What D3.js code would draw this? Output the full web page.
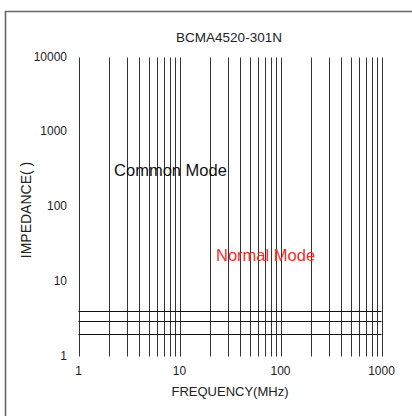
<!DOCTYPE html>
<html>
<head>
<meta charset="utf-8">
<script src="https://cdn.jsdelivr.net/npm/d3@7/dist/d3.min.js"></script>
<style>
  html, body { margin: 0; padding: 0; background: #fff; }
  svg { display: block; font-family: "Liberation Sans", Arial, sans-serif; }
</style>
</head>
<body>
<svg id="chart" width="412" height="416"></svg>
<script>
// ---- data ----
const title = "BCMA4520-301N";
const xTickValues = [1, 10, 100, 1000];
const xTickLabels = ["1", "10", "100", "1000"];
const yTickValues = [1, 10, 100, 1000, 10000];
const yTickLabels = ["1", "10", "100", "1000", "10000"];
const gridFrequencies = [1,2,3,4,5,6,7,8,9,10,20,30,40,50,60,70,80,90,100,200,300,400,500,600,700,800,900,1000];
const gridImpedances = [2, 3, 4];
const annotations = ["Common Mode", "Normal Mode"];
const annotationAt = [[2.25, 260], [23, 19.2]]; // [frequency, impedance]
const xAxisLabel = "FREQUENCY(MHz)";
const yAxisLabel = "IMPEDANCE( )";

// ---- drawing ----
const svg = d3.select("#chart");
const x = d3.scaleLog().domain([1, 1000]).range([78.5, 381.5]);
const y = d3.scaleLog().domain([1, 10000]).range([356.5, 57.5]);

// outer frame (left and top only)
svg.append("path")
  .attr("d", "M5.5,416 L5.5,11.5 L412,11.5")
  .attr("fill", "none")
  .attr("stroke", "#6b6363")
  .attr("stroke-width", 1.6);

// vertical grid lines
svg.append("g").selectAll("line").data(gridFrequencies).join("line")
  .attr("x1", d => Math.round(x(d)) + 0.5).attr("x2", d => Math.round(x(d)) + 0.5)
  .attr("y1", y(10000)).attr("y2", y(1))
  .attr("stroke", "#333").attr("stroke-width", 1);

// horizontal grid lines
svg.append("g").selectAll("line").data(gridImpedances).join("line")
  .attr("x1", x(1)).attr("x2", x(1000))
  .attr("y1", d => Math.round(y(d)) + 0.5).attr("y2", d => Math.round(y(d)) + 0.5)
  .attr("stroke", "#111").attr("stroke-width", 1.2);

// x tick labels
svg.append("g").selectAll("text").data(xTickValues).join("text")
  .attr("x", d => x(d)).attr("y", 375)
  .attr("text-anchor", "middle")
  .attr("font-size", 12).attr("fill", "#222")
  .text((d, i) => xTickLabels[i]);

// y tick labels
svg.append("g").selectAll("text").data(yTickValues).join("text")
  .attr("x", 67).attr("y", d => y(d) + 3)
  .attr("text-anchor", "end")
  .attr("font-size", 12).attr("fill", "#222")
  .text((d, i) => yTickLabels[i]);

// title
svg.append("text")
  .attr("x", 229).attr("y", 42)
  .attr("text-anchor", "middle")
  .attr("font-size", 13.5).attr("fill", "#222")
  .text(title);

// axis labels
svg.append("text")
  .attr("x", 230).attr("y", 396)
  .attr("text-anchor", "middle")
  .attr("font-size", 13).attr("fill", "#222")
  .text(xAxisLabel);

svg.append("text")
  .attr("transform", "translate(31,210) rotate(-90)")
  .attr("text-anchor", "middle")
  .attr("font-size", 14).attr("fill", "#222")
  .attr("xml:space", "preserve")
  .style("white-space", "pre")
  .text(yAxisLabel);

// annotations
const annColors = ["#111", "#e8312a"];
svg.append("g").selectAll("text").data(annotations).join("text")
  .attr("x", (d, i) => x(annotationAt[i][0]))
  .attr("y", (d, i) => y(annotationAt[i][1]))
  .attr("font-size", 16.5)
  .attr("fill", (d, i) => annColors[i])
  .text(d => d);
</script>
</body>
</html>
